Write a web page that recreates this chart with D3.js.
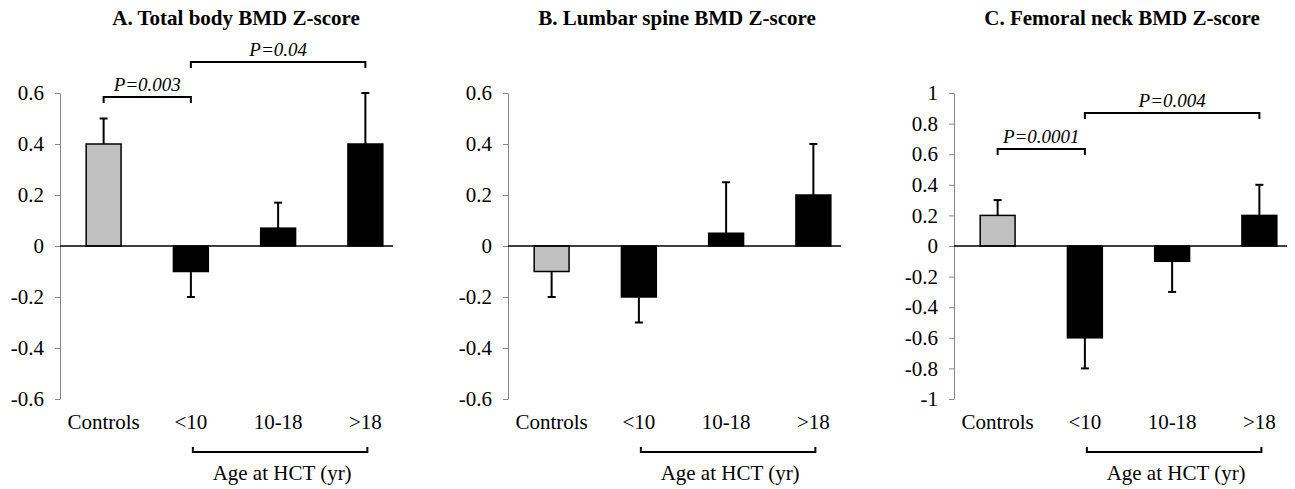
<!DOCTYPE html>
<html>
<head>
<meta charset="utf-8">
<script src="https://cdn.jsdelivr.net/npm/d3@7"></script>
<style>
  body { margin: 0; background: #fff; }
  svg { display: block; font-family: "Liberation Serif", "Times New Roman", serif; }
</style>
</head>
<body>
<svg id="chart" width="1295" height="489"></svg>
<script>
// categories and values
var categories = ["Controls", "<10", "10-18", ">18"];
var totalBody = [0.4, -0.1, 0.07, 0.4];
var totalBodyErr = [0.1, 0.1, 0.1, 0.2];
var lumbarSpine = [-0.1, -0.2, 0.05, 0.2];
var lumbarSpineErr = [0.1, 0.1, 0.2, 0.2];
var femoralNeck = [0.2, -0.6, -0.1, 0.2];
var femoralNeckErr = [0.1, 0.2, 0.2, 0.2];
var ticksAB = [-0.6, -0.4, -0.2, 0, 0.2, 0.4, 0.6];
var ticksC = [-1, -0.8, -0.6, -0.4, -0.2, 0, 0.2, 0.4, 0.6, 0.8, 1];
var groupLabel = "Age at HCT (yr)";

var panels = [
  { title: "A. Total body BMD Z-score", values: totalBody, errors: totalBodyErr,
    ticks: ticksAB, domain: [-0.6, 0.6], axisX: 60, titleX: 236,
    signif: [{ from: 0, to: 1, label: "P=0.003", y: 97 },
             { from: 1, to: 3, label: "P=0.04", y: 62 }] },
  { title: "B. Lumbar spine BMD Z-score", values: lumbarSpine, errors: lumbarSpineErr,
    ticks: ticksAB, domain: [-0.6, 0.6], axisX: 508, titleX: 677,
    signif: [] },
  { title: "C. Femoral neck BMD Z-score", values: femoralNeck, errors: femoralNeckErr,
    ticks: ticksC, domain: [-1, 1], axisX: 954, titleX: 1122,
    signif: [{ from: 0, to: 1, label: "P=0.0001", y: 149 },
             { from: 1, to: 3, label: "P=0.004", y: 113 }] }
];

var svg = d3.select("#chart");
var plotTop = 93, plotBottom = 399;
var serif = "Liberation Serif";

function fmt(d) { return d === 0 ? "0" : String(+d.toFixed(1)); }

panels.forEach(function (p) {
  var g = svg.append("g");
  var x = d3.scaleBand().domain(categories)
    .range([p.axisX, p.axisX + 349]).paddingInner(0.6).paddingOuter(0.3);
  var y = d3.scaleLinear().domain(p.domain).range([plotBottom, plotTop]);
  var cx = function (i) { return x(categories[i]) + x.bandwidth() / 2; };

  // title
  g.append("text")
    .attr("x", p.titleX).attr("y", 25)
    .attr("text-anchor", "middle")
    .attr("font-size", 21).attr("font-weight", "bold")
    .text(p.title);

  // y axis
  var ax = g.append("g")
    .attr("transform", "translate(" + p.axisX + ",0)")
    .call(d3.axisLeft(y).tickValues(p.ticks).tickFormat(fmt).tickSize(5).tickPadding(11).tickSizeOuter(0))
    .attr("font-family", serif)
    .attr("font-size", 21);
  ax.select(".domain").attr("stroke", "#858585");
  ax.selectAll(".tick line").attr("stroke", "#858585");
  ax.selectAll(".tick text").attr("fill", "#000");

  // bars
  g.selectAll("rect.bar").data(p.values).enter().append("rect")
    .attr("class", "bar")
    .attr("x", function (d, i) { return x(categories[i]); })
    .attr("width", x.bandwidth())
    .attr("y", function (d) { return y(Math.max(0, d)); })
    .attr("height", function (d) { return Math.abs(y(d) - y(0)); })
    .attr("fill", function (d, i) { return i === 0 ? "#c0c0c0" : "#000"; })
    .attr("stroke", "#000").attr("stroke-width", 1.5);

  // error bars, drawn away from zero
  p.values.forEach(function (d, i) {
    var tip = d >= 0 ? d + p.errors[i] : d - p.errors[i];
    g.append("line")
      .attr("x1", cx(i)).attr("x2", cx(i))
      .attr("y1", y(d)).attr("y2", y(tip))
      .attr("stroke", "#000").attr("stroke-width", 2);
    g.append("line")
      .attr("x1", cx(i) - 4).attr("x2", cx(i) + 4)
      .attr("y1", y(tip)).attr("y2", y(tip))
      .attr("stroke", "#000").attr("stroke-width", 2);
  });

  // zero line
  g.append("line")
    .attr("x1", p.axisX).attr("x2", p.axisX + 333)
    .attr("y1", y(0)).attr("y2", y(0))
    .attr("stroke", "#000").attr("stroke-width", 1.5);

  // category labels
  g.selectAll("text.cat").data(categories).enter().append("text")
    .attr("class", "cat")
    .attr("x", function (d, i) { return cx(i); })
    .attr("y", 429)
    .attr("text-anchor", "middle")
    .attr("font-size", 21)
    .text(function (d) { return d; });

  // significance brackets
  p.signif.forEach(function (s) {
    var x1 = cx(s.from), x2 = cx(s.to);
    g.append("path")
      .attr("d", "M" + x1 + "," + (s.y + 6) + "V" + s.y + "H" + x2 + "V" + (s.y + 6))
      .attr("fill", "none").attr("stroke", "#000").attr("stroke-width", 2);
    g.append("text")
      .attr("x", (x1 + x2) / 2).attr("y", s.y - 6)
      .attr("text-anchor", "middle")
      .attr("font-size", 19).attr("font-style", "italic")
      .text(s.label);
  });

  // age group bracket
  var gx1 = cx(1) + 2, gx2 = cx(3) + 2;
  g.append("path")
    .attr("d", "M" + gx1 + ",447V452H" + gx2 + "V447")
    .attr("fill", "none").attr("stroke", "#000").attr("stroke-width", 2);
  g.append("text")
    .attr("x", (gx1 + gx2) / 2 + 2).attr("y", 480)
    .attr("text-anchor", "middle")
    .attr("font-size", 21)
    .text(groupLabel);
});
</script>
</body>
</html>
